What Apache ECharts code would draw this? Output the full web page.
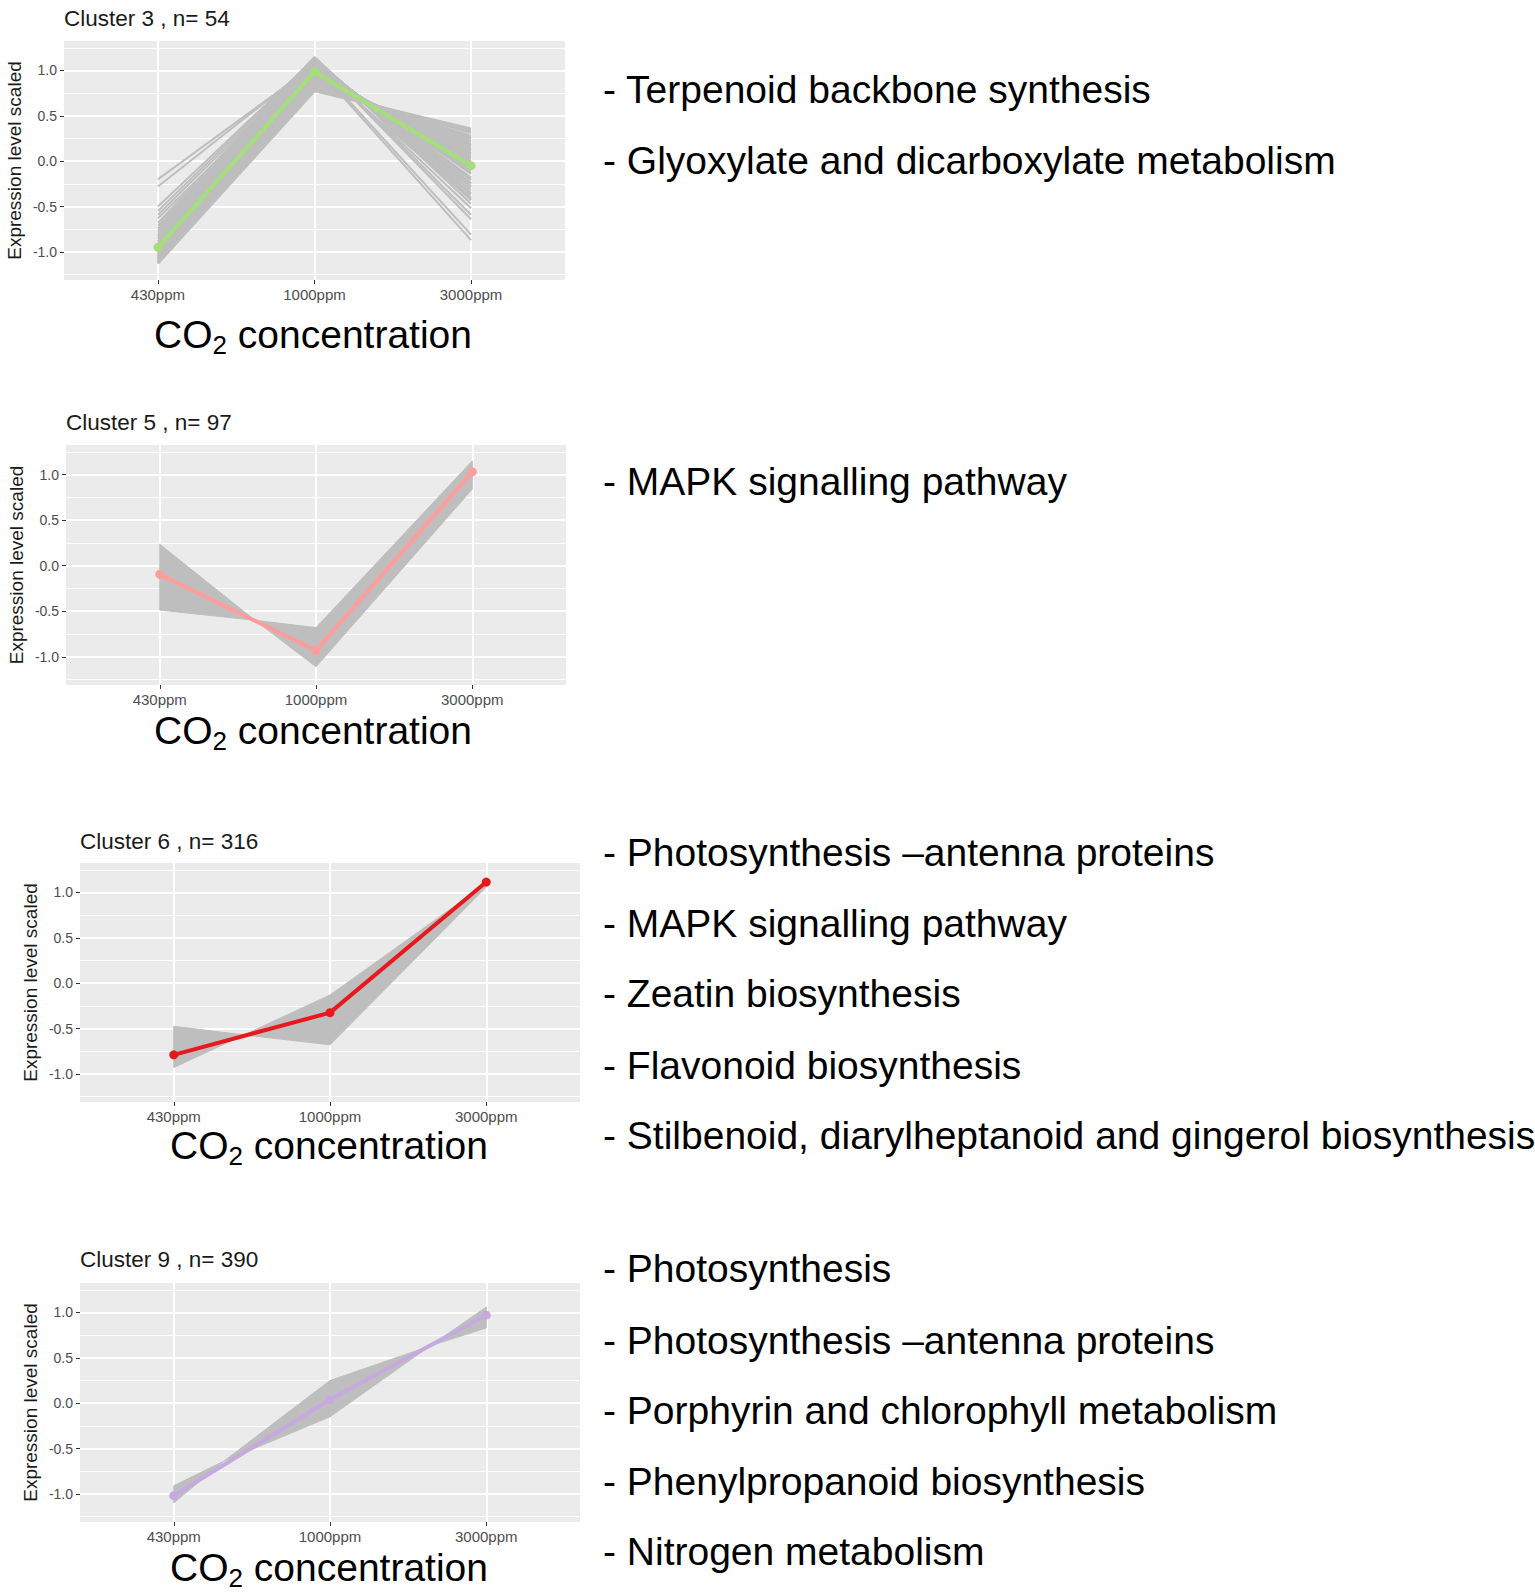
<!DOCTYPE html>
<html>
<head>
<meta charset="utf-8">
<script src="https://cdn.jsdelivr.net/npm/echarts@6/dist/echarts.min.js"></script>
<style>
html, body { margin: 0; padding: 0; background: #fff; }
#main { width: 1535px; height: 1595px; }
</style>
</head>
<body>
<div id="main"></div>
<script>
// categories and tick values
var doses = ['430ppm', '1000ppm', '3000ppm'];
var yMajor = [-1, -0.5, 0, 0.5, 1];
var yMinor = [-1.25, -0.75, -0.25, 0.25, 0.75, 1.25];

var titles = ['Cluster 3 , n= 54', 'Cluster 5 , n= 97', 'Cluster 6 , n= 316', 'Cluster 9 , n= 390'];

// cluster means (coloured lines)
var mean3 = [-0.95, 0.985, -0.05];
var mean5 = [-0.095, -0.93, 1.03];
var mean6 = [-0.79, -0.325, 1.115];
var mean9 = [-1.02, 0.04, 0.97];

// cluster 3: individual genes [430, 1000, 3000]
var lines3 = [
    [-0.20, 1.06, -0.87], [-0.28, 1.08, -0.81], [-0.50, 1.13, -0.64],
    [-0.55, 1.13, -0.59], [-0.59, 1.11, -0.52], [-0.63, 1.06, -0.42],
    [-0.68, 1.15, -0.47], [-0.71, 1.14, -0.43], [-0.74, 1.14, -0.40],
    [-0.76, 1.13, -0.37], [-0.78, 1.13, -0.35], [-0.80, 1.12, -0.32],
    [-0.82, 1.11, -0.29], [-0.83, 1.11, -0.28], [-0.85, 1.10, -0.25],
    [-0.86, 1.10, -0.24], [-0.88, 1.09, -0.21], [-0.89, 1.08, -0.19],
    [-0.90, 1.08, -0.18], [-0.92, 1.06, -0.14], [-0.93, 1.06, -0.13],
    [-0.94, 1.05, -0.11], [-0.95, 1.04, -0.09], [-0.96, 1.04, -0.08],
    [-0.97, 1.03, -0.06], [-0.98, 1.02, -0.04], [-0.99, 1.01, -0.02],
    [-1.00, 1.00, 0.00], [-1.01, 0.99, 0.02], [-1.02, 0.98, 0.04],
    [-1.02, 0.97, 0.05], [-1.03, 0.97, 0.06], [-1.04, 0.96, 0.09],
    [-1.04, 0.95, 0.08], [-1.05, 0.94, 0.11], [-1.05, 0.94, 0.12],
    [-1.06, 0.93, 0.13], [-1.06, 0.92, 0.14], [-1.07, 0.91, 0.16],
    [-1.07, 0.90, 0.17], [-1.08, 0.89, 0.19], [-1.08, 0.90, 0.18],
    [-1.09, 0.88, 0.21], [-1.09, 0.87, 0.22], [-1.10, 0.85, 0.25],
    [-1.10, 0.86, 0.24], [-1.10, 0.85, 0.26], [-1.11, 0.83, 0.28],
    [-1.11, 0.84, 0.27], [-1.12, 0.80, 0.32], [-1.12, 0.81, 0.31],
    [-1.12, 0.80, 0.33], [-1.13, 0.77, 0.36], [-1.13, 0.78, 0.35]
];

// clusters 5, 6, 9: envelope of the gene lines [position, value]
var band5Upper = [[0, 0.235], [0.61, -0.6], [1, -0.68], [2, 1.15]];
var band5Lower = [[0, -0.487], [0.61, -0.6], [1, -1.11], [2, 0.84]];
var band6Upper = [[0, -0.475], [0.45, -0.57], [1, -0.13], [2, 1.10]];
var band6Lower = [[0, -0.93], [0.45, -0.57], [1, -0.68], [2, 1.06]];
var band9Upper = [[0, -0.91], [0.32, -0.64], [1, 0.25], [1.64, 0.63], [2, 1.06]];
var band9Lower = [[0, -1.10], [0.32, -0.64], [1, -0.15], [1.64, 0.63], [2, 0.83]];

// pathway lists on the right
var pathways3 = ['- Terpenoid backbone synthesis', '- Glyoxylate and dicarboxylate metabolism'];
var pathways5 = ['- MAPK signalling pathway'];
var pathways6 = ['- Photosynthesis \u2013antenna proteins', '- MAPK signalling pathway', '- Zeatin biosynthesis',
    '- Flavonoid biosynthesis', '- Stilbenoid, diarylheptanoid and gingerol biosynthesis'];
var pathways9 = ['- Photosynthesis', '- Photosynthesis \u2013antenna proteins', '- Porphyrin and chlorophyll metabolism',
    '- Phenylpropanoid biosynthesis', '- Nitrogen metabolism'];

var FONT = '"Liberation Sans", Arial, Helvetica, sans-serif';
var BIG = '39px ' + FONT;
var SUB = '26px ' + FONT;

var chart = echarts.init(document.getElementById('main'), null, { renderer: 'svg' });

// text widths for the "CO2 concentration" pieces
var measureCtx = document.createElement('canvas').getContext('2d');
function textWidth(t, font) {
    measureCtx.font = font;
    return measureCtx.measureText(t).width;
}

var panels = [
    { left: 64, top: 41, width: 501, height: 239, titleY: 18, co2X: 313, co2Y: 334, listY: [89, 160] },
    { left: 66, top: 445, width: 500, height: 240, titleY: 422, co2X: 313, co2Y: 730, listY: [481] },
    { left: 80, top: 863, width: 500, height: 239, titleY: 841, co2X: 329, co2Y: 1145, listY: [852, 923, 993, 1065, 1135] },
    { left: 80, top: 1283, width: 500, height: 239, titleY: 1259, co2X: 329, co2Y: 1567, listY: [1268, 1340, 1410, 1481, 1551] }
];
var means = [mean3, mean5, mean6, mean9];
var meanColors = ['#a5df7c', '#ff9c9c', '#e8191c', '#c6a9de'];
var bands = [null, [band5Upper, band5Lower], [band6Upper, band6Lower], [band9Upper, band9Lower]];
var lists = [pathways3, pathways5, pathways6, pathways9];

var grids = [], xAxes = [], yAxes = [], series = [], graphics = [];

panels.forEach(function (p, i) {
    grids.push({
        left: p.left, top: p.top, width: p.width, height: p.height,
        show: true, backgroundColor: '#ebebeb', borderWidth: 0
    });
    xAxes.push({
        gridIndex: i, type: 'value', min: -0.6, max: 2.6,
        axisLine: { show: false, onZero: false },
        axisTick: { show: true, customValues: [0, 1, 2], length: 4, lineStyle: { color: '#333', width: 1 } },
        axisLabel: {
            customValues: [0, 1, 2], margin: 7, fontSize: 15, color: '#4d4d4d', fontFamily: FONT,
            formatter: function (v) { return doses[Math.round(v)]; }
        },
        splitLine: { show: true, lineStyle: { color: '#ffffff', width: 2 } }
    });
    yAxes.push({
        gridIndex: i, type: 'value', min: -1.31, max: 1.325,
        axisLine: { show: false, onZero: false },
        axisTick: { show: true, customValues: yMajor, length: 4, lineStyle: { color: '#333', width: 1 } },
        axisLabel: {
            customValues: yMajor, margin: 7, fontSize: 14, color: '#4d4d4d', fontFamily: FONT,
            formatter: function (v) { return v.toFixed(1); }
        },
        splitLine: { show: true, lineStyle: { color: '#ffffff', width: 2 } },
        name: 'Expression level scaled', nameLocation: 'middle', nameRotate: 90, nameGap: 40,
        nameTextStyle: { fontSize: 19, color: '#1a1a1a', fontFamily: FONT }
    });
    // minor grid lines
    yAxes.push({
        gridIndex: i, type: 'value', min: -1.31, max: 1.325, position: 'right',
        axisLine: { show: false, onZero: false },
        axisTick: { show: false, customValues: yMinor },
        axisLabel: { show: false },
        splitLine: { show: true, lineStyle: { color: '#ffffff', width: 1.2 } }
    });

    if (i === 0) {
        lines3.forEach(function (g) {
            series.push({
                type: 'line', xAxisIndex: 0, yAxisIndex: 0, silent: true, symbol: 'none', z: 2,
                data: [[0, g[0]], [1, g[1]], [2, g[2]]],
                lineStyle: { color: '#bebebe', width: 2 }
            });
        });
    } else {
        var up = bands[i][0], lo = bands[i][1];
        series.push({
            type: 'custom', xAxisIndex: i, yAxisIndex: i * 2, silent: true, z: 2,
            data: [0],
            renderItem: function (params, api) {
                var pts = up.concat(lo.slice().reverse()).map(function (q) { return api.coord(q); });
                return { type: 'polygon', shape: { points: pts }, style: { fill: '#bebebe', stroke: '#bebebe', lineWidth: 1 } };
            }
        });
    }
    series.push({
        type: 'line', xAxisIndex: i, yAxisIndex: i * 2, silent: true, z: 3,
        data: means[i].map(function (v, k) { return [k, v]; }),
        symbol: 'circle', symbolSize: 9,
        lineStyle: { color: meanColors[i], width: 4 },
        itemStyle: { color: meanColors[i] }
    });

    graphics.push({
        type: 'text', x: p.left, y: p.titleY,
        style: { text: titles[i], font: '22.5px ' + FONT, fill: '#1a1a1a', align: 'left', verticalAlign: 'middle' }
    });

    // x axis title: CO + subscript 2 + concentration
    var w1 = textWidth('CO', BIG), w2 = textWidth('2', SUB), w3 = textWidth(' concentration', BIG);
    var x0 = p.co2X - (w1 + w2 + w3) / 2;
    graphics.push({
        type: 'text', x: x0, y: p.co2Y,
        style: { text: 'CO', font: BIG, fill: '#000', align: 'left', verticalAlign: 'middle' }
    });
    graphics.push({
        type: 'text', x: x0 + w1, y: p.co2Y + 11,
        style: { text: '2', font: SUB, fill: '#000', align: 'left', verticalAlign: 'middle' }
    });
    graphics.push({
        type: 'text', x: x0 + w1 + w2, y: p.co2Y,
        style: { text: ' concentration', font: BIG, fill: '#000', align: 'left', verticalAlign: 'middle' }
    });

    lists[i].forEach(function (t, k) {
        graphics.push({
            type: 'text', x: 603, y: p.listY[k],
            style: { text: t, font: BIG, fill: '#000', align: 'left', verticalAlign: 'middle' }
        });
    });
});

chart.setOption({
    animation: false,
    backgroundColor: '#ffffff',
    grid: grids,
    xAxis: xAxes,
    yAxis: yAxes,
    series: series,
    graphic: graphics
});
</script>
</body>
</html>
